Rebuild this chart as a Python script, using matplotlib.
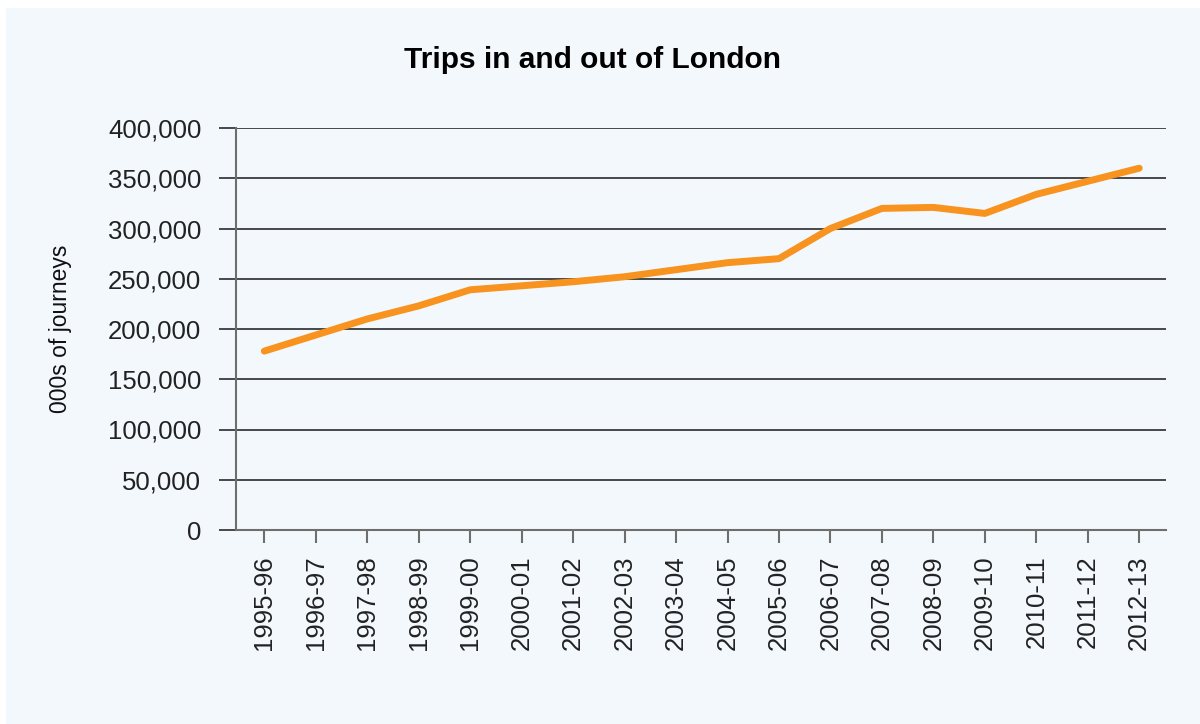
import matplotlib
matplotlib.use('Agg')
import matplotlib.pyplot as plt
from matplotlib.patches import Rectangle
from matplotlib.ticker import FuncFormatter

# Data (thousands of journeys)
years = ['1995-96', '1996-97', '1997-98', '1998-99', '1999-00', '2000-01',
         '2001-02', '2002-03', '2003-04', '2004-05', '2005-06', '2006-07',
         '2007-08', '2008-09', '2009-10', '2010-11', '2011-12', '2012-13']
journeys = [178000, 194000, 210000, 223000, 239000, 243000,
            247000, 252000, 259000, 266000, 270000, 300000,
            320000, 321000, 315000, 334000, 347000, 360000]

plt.rcParams['font.family'] = ['Liberation Sans', 'DejaVu Sans']

bg = '#f3f8fc'
fig = plt.figure(figsize=(12, 7.24), dpi=100)
fig.patch.set_facecolor('white')
# light panel behind the chart
fig.patches.append(Rectangle((6 / 1200, 0), 1, 1 - 8 / 724, transform=fig.transFigure,
                             facecolor=bg, edgecolor='none', zorder=-1))

ax = fig.add_axes([236 / 1200, 1 - 530 / 724, 930 / 1200, 402 / 724])
ax.set_facecolor(bg)

x = list(range(len(years)))
ax.plot(x, journeys, color='#f7931e', linewidth=5, solid_capstyle='round',
        solid_joinstyle='round', zorder=3)

ax.set_xlim(-0.55, 17.52)
ax.set_ylim(0, 400000)
ax.set_yticks(range(0, 400001, 50000))
ax.yaxis.set_major_formatter(FuncFormatter(lambda v, p: f'{int(v):,}'))
ax.set_xticks(x)
ax.set_xticklabels(years, rotation=90)

ax.grid(axis='y', color='#2a2a2a', linewidth=1.2)
ax.set_axisbelow(True)
for s in ['top', 'right']:
    ax.spines[s].set_visible(False)
ax.spines['left'].set_color('#6e6e6e')
ax.spines['bottom'].set_color('#6e6e6e')
ax.spines['left'].set_linewidth(1.5)
ax.spines['bottom'].set_linewidth(1.5)

ax.tick_params(axis='y', length=12, width=1.2, color='#2a2a2a', pad=13,
               labelsize=18.5, labelcolor='#222222')
ax.tick_params(axis='x', length=9, width=1.5, color='#6e6e6e', pad=9,
               labelsize=18.5, labelcolor='#222222')

ax.set_ylabel('000s of journeys', fontsize=16.5, color='#111111', labelpad=26)
fig.text(593 / 1200, 1 - 60 / 724, 'Trips in and out of London', fontsize=21.5,
         fontweight='bold', ha='center', va='center', color='black')

fig.savefig('out.png', dpi=100, facecolor=fig.get_facecolor())
